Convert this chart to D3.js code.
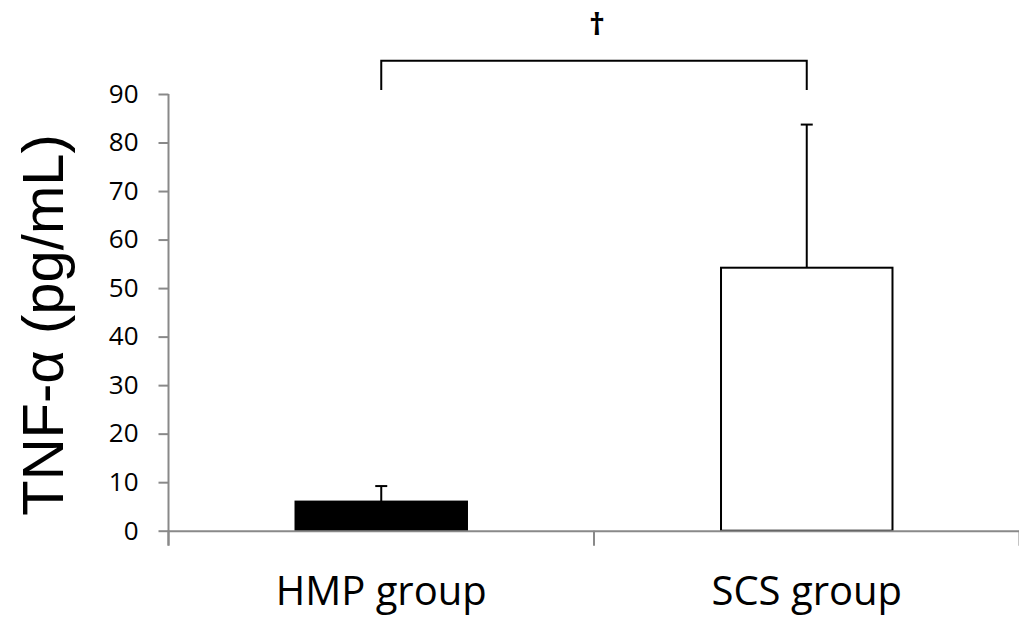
<!DOCTYPE html>
<html>
<head>
<meta charset="utf-8">
<script src="https://cdn.jsdelivr.net/npm/d3@7"></script>
<style>
  html, body { margin: 0; padding: 0; background: #fff; }
  svg { display: block; }
</style>
</head>
<body>
<svg id="chart" width="1019" height="620"></svg>
<script>
// TNF-α by group: mean with upper SD whisker
const groups = ["HMP group", "SCS group"];
const means = [6.0, 54.2];
const sds = [3.2, 29.5];
const fills = ["#000000", "#ffffff"];
const yTicks = [0, 10, 20, 30, 40, 50, 60, 70, 80, 90];
const yLabel = "TNF-α (pg/mL)";
const sigMark = "†";

const svg = d3.select("#chart");
const axisColor = "#898989";

const x = d3.scaleBand().domain(groups).range([168.5, 1019.5]).padding(0);
const y = d3.scaleLinear().domain([0, 90]).range([530.7, 94]);
const barW = x.bandwidth() * 0.403;
const cx = g => x(g) + x.bandwidth() / 2;

// bars
svg.append("g").selectAll("rect").data(groups).join("rect")
  .attr("x", g => cx(g) - barW / 2)
  .attr("y", (g, i) => y(means[i]))
  .attr("width", barW)
  .attr("height", (g, i) => y(0) - y(means[i]))
  .attr("fill", (g, i) => fills[i])
  .attr("stroke", "#000")
  .attr("stroke-width", 2);

// error whiskers (upper only)
const err = svg.append("g").attr("stroke", "#000").attr("stroke-width", 2);
groups.forEach((g, i) => {
  const top = y(means[i] + sds[i]);
  err.append("line").attr("x1", cx(g)).attr("x2", cx(g))
    .attr("y1", y(means[i])).attr("y2", top);
  err.append("line").attr("x1", cx(g) - 6).attr("x2", cx(g) + 6)
    .attr("y1", top).attr("y2", top);
});

// y axis
const yAxis = d3.axisLeft(y).tickValues(yTicks).tickSize(10).tickPadding(20);
const gy = svg.append("g").attr("transform", "translate(168.5,0)").call(yAxis);
gy.select(".domain").remove();
gy.append("line").attr("x1", 0).attr("x2", 0).attr("y1", y(90)).attr("y2", 545.5)
  .attr("stroke", axisColor).attr("stroke-width", 2);
gy.selectAll(".tick line").attr("stroke", axisColor).attr("stroke-width", 2);
gy.selectAll(".tick text")
  .attr("fill", "#000")
  .style("font-family", "'Open Sans', sans-serif")
  .style("font-size", "26px");

// x axis
const xAxis = d3.axisBottom(x).tickSize(0).tickFormat("");
const gx = svg.append("g").attr("transform", `translate(0,${y(0)})`).call(xAxis);
gx.select(".domain").attr("stroke", axisColor).attr("stroke-width", 2);
gx.selectAll(".tick").remove();
// category boundary ticks
const bounds = groups.map(g => x(g)).concat([x.range()[1]]);
gx.selectAll("line.sep").data(bounds).join("line").attr("class", "sep")
  .attr("x1", d => d).attr("x2", d => d).attr("y1", 0).attr("y2", 15)
  .attr("stroke", axisColor).attr("stroke-width", 2);

// category labels
svg.append("g").selectAll("text").data(groups).join("text")
  .attr("x", g => cx(g))
  .attr("y", 605)
  .attr("text-anchor", "middle")
  .style("font-family", "'Open Sans', sans-serif")
  .style("font-size", "40px")
  .attr("fill", "#000")
  .text(d => d);

// y label
svg.append("text")
  .attr("transform", "translate(63,325) rotate(-90)")
  .attr("text-anchor", "middle")
  .style("font-family", "'Liberation Sans', Arial, sans-serif")
  .style("font-size", "58px")
  .attr("fill", "#000")
  .text(yLabel);

// significance bracket
const bx1 = cx(groups[0]), bx2 = cx(groups[1]);
svg.append("path")
  .attr("d", `M${bx1},90 V60.7 H${bx2} V90`)
  .attr("fill", "none").attr("stroke", "#000").attr("stroke-width", 2);
svg.append("text")
  .attr("x", (bx1 + bx2) / 2 + 3)
  .attr("y", 35)
  .attr("text-anchor", "middle")
  .style("font-family", "'Open Sans', sans-serif")
  .style("font-size", "31px")
  .style("font-weight", "bold")
  .attr("fill", "#000")
  .text(sigMark);
</script>
</body>
</html>
